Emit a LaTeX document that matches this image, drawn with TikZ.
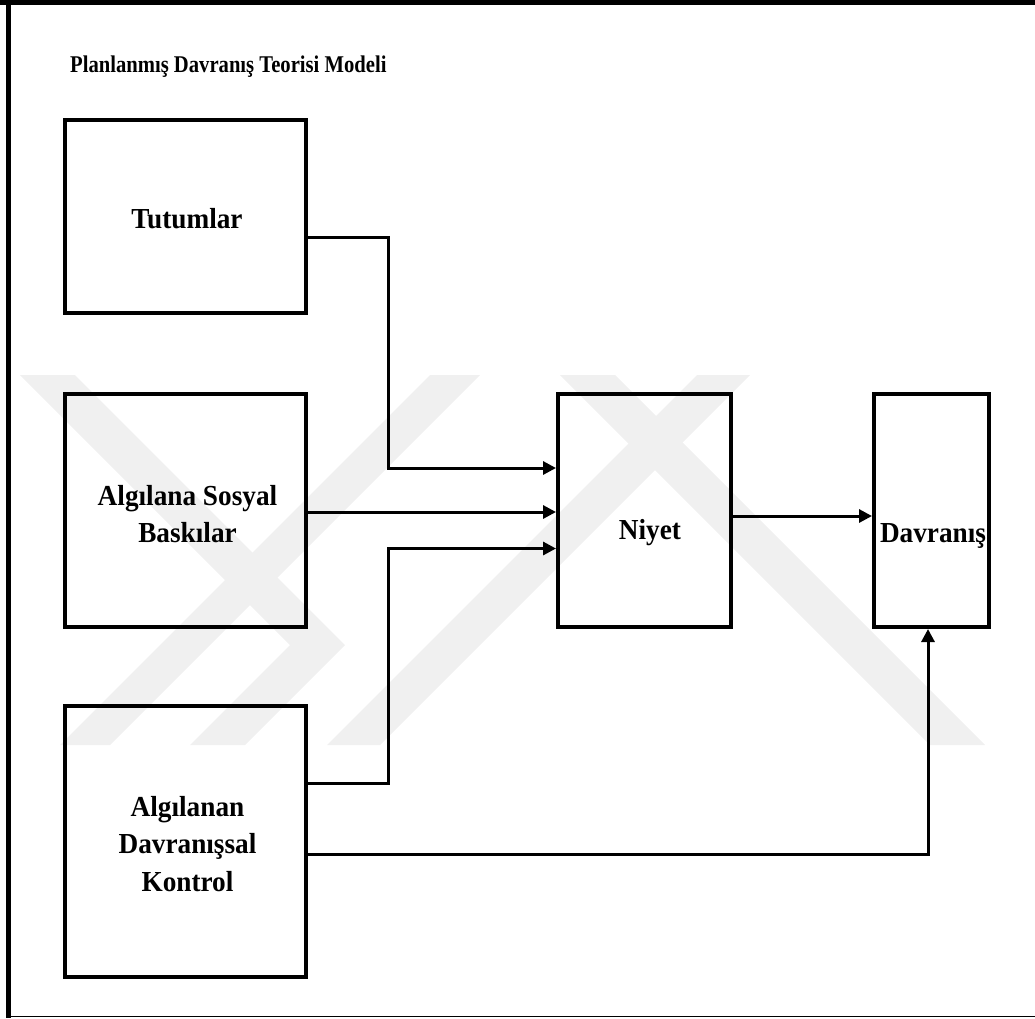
\documentclass[tikz,border=0pt]{standalone}
\usepackage{fontspec}
\setmainfont{Liberation Serif}
\newfontfamily\titlefont[FakeStretch=0.86]{Liberation Serif}
\newfontfamily\labelfont[FakeStretch=0.94]{Liberation Serif}
\usetikzlibrary{arrows.meta}
\definecolor{wmark}{gray}{0.94}
\begin{document}
\begin{tikzpicture}[x=1pt,y=-1pt,
  box/.style={draw, line width=4pt, minimum width=#1, inner sep=0pt},
  lbl/.style={font=\labelfont\bfseries\fontsize{29}{37.5}\selectfont, align=center, inner sep=0pt},
  conn/.style={line width=3pt},
  tip/.style={-{Triangle[length=13pt,width=13pt]}},
  band/.style={fill=wmark, draw=none}]
\useasboundingbox (0,0) rectangle (1035,1018);

% background emblem: light diagonal stripes
\fill[band] (20,375) -- (75,375) -- (345,645) -- (245,745) -- (190,745) -- (290,645) -- cycle;
\fill[band] (60,745) -- (110,745) -- (480,375) -- (430,375) -- cycle;
\fill[band] (327,745) -- (380,745) -- (750,375) -- (697,375) -- cycle;
\fill[band] (560,375) -- (615,375) -- (985,745) -- (930,745) -- cycle;

% frame
\draw[line width=4.5pt] (8.3,0) -- (8.3,1018);
\draw[line width=4.7pt] (0,2.3) -- (1035,2.3);
\draw[line width=1.5pt] (8.3,1016.5) -- (1035,1016.5);

% title
\node[font=\titlefont\bfseries\fontsize{24}{30}\selectfont, anchor=base west, inner sep=0pt] (title) at (70,72) {Planlanmış Davranış Teorisi Modeli};

% boxes
\node[box=241pt, minimum height=193pt] (tut) at (185.5,216.5) {};
\node[box=241pt, minimum height=233pt] (sos) at (185.5,510.5) {};
\node[box=241pt, minimum height=271pt] (kon) at (185.5,841.5) {};
\node[box=173pt, minimum height=233pt] (niy) at (644.5,510.5) {};
\node[box=115pt, minimum height=233pt] (dav) at (931.5,510.5) {};

% labels
\node[lbl] (tutl) at (187,219) {Tutumlar};
\node[lbl] (sosl) at (187.5,514) {Algılana Sosyal\\Baskılar};
\node[lbl] (konl) at (187.5,844) {Algılanan\\Davranışsal\\Kontrol};
\node[lbl] (niyl) at (650,533) {Niyet};
\node[lbl] (davl) at (933,536) {Davranış};

% connectors
\draw[conn, tip] ([yshift=-20.5pt]tut.east) -- ++(80,0) |- ([yshift=42.5pt]niy.west);
\draw[conn, tip] ([yshift=-1.5pt]sos.east) -- ([yshift=-1.5pt]niy.west);
\draw[conn, tip] ([yshift=58.5pt]kon.east) -- ++(80,0) |- ([yshift=-38pt]niy.west);
\draw[conn, tip] ([yshift=-5.5pt]niy.east) -- ([yshift=-5.5pt]dav.west);
\draw[conn, tip] ([yshift=-12.5pt]kon.east) -| ([xshift=-3.5pt]dav.south);
\end{tikzpicture}
\end{document}
